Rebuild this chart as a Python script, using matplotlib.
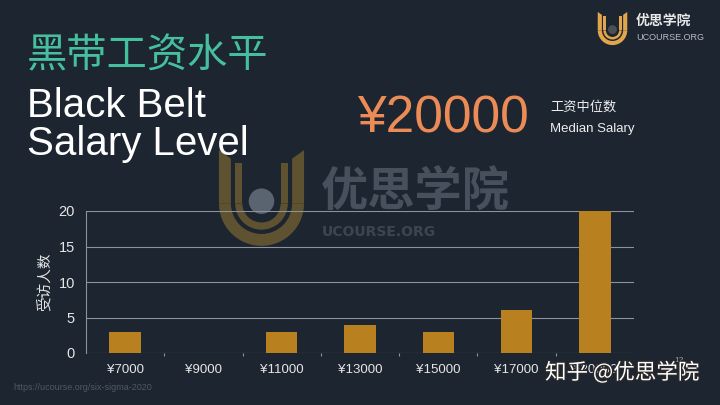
import numpy as np
import matplotlib.pyplot as plt
from matplotlib.patches import Wedge, Rectangle, Circle, Polygon
import matplotlib.patheffects as pe

# data
salary_labels = ['¥7000', '¥9000', '¥11000', '¥13000', '¥15000', '¥17000', '¥20000']
counts = [3, 0, 3, 4, 3, 6, 20]
y_ticks = [0, 5, 10, 15, 20]

bg = '#1c2530'
bar_color = '#b8801e'
cjk = ['Noto Sans CJK SC', 'DejaVu Sans']
latin = ['Liberation Sans', 'DejaVu Sans']

W, H = 720, 405
fig = plt.figure(figsize=(7.2, 4.05), dpi=100, facecolor=bg)


def px_box(x0, y0, x1, y1):
    # pixel box (top-left origin) -> figure fraction rect
    return [x0 / W, 1 - y1 / H, (x1 - x0) / W, (y1 - y0) / H]


def draw_logo(rect, gold, dot):
    ax = fig.add_axes(rect)
    ax.set_xlim(-1.05, 1.05)
    ax.set_ylim(-1.05, 1.3)
    ax.set_aspect('equal')
    ax.axis('off')
    # outer U
    ax.add_patch(Wedge((0, 0), 1.0, 180, 360, width=0.28, color=gold, lw=0))
    ax.add_patch(Polygon([(-1.0, 0), (-0.72, 0), (-0.72, 1.05), (-1.0, 1.25)], color=gold, lw=0))
    ax.add_patch(Polygon([(0.72, 0), (1.0, 0), (1.0, 1.25), (0.72, 1.05)], color=gold, lw=0))
    # inner U
    ax.add_patch(Wedge((0, 0), 0.62, 180, 360, width=0.17, color=gold, lw=0))
    ax.add_patch(Rectangle((-0.62, 0), 0.17, 0.95, color=gold, lw=0))
    ax.add_patch(Rectangle((0.45, 0), 0.17, 0.95, color=gold, lw=0))
    ax.add_patch(Circle((0, 0.05), 0.3, color=dot, lw=0))
    return ax


# faded watermark in the middle
draw_logo(px_box(216, 148, 307, 248), '#5f5230', '#5a6370')
fig.text(321 / W, 1 - 193 / H, '优思学院', family=cjk, fontsize=34, weight='bold',
         color='#47505c', va='center', ha='left')
fig.text(322 / W, 1 - 232 / H, 'UCOURSE.ORG', family='DejaVu Sans', fontsize=10, weight='bold',
         color='#3c4652', va='center', ha='left')

# top right logo
draw_logo(px_box(597, 11, 628, 46), '#e2a54c', '#4a4f58')
fig.text(636 / W, 1 - 21 / H, '优思学院', family=cjk, fontsize=10, weight='bold',
         color='#e8e8e8', va='center', ha='left')
fig.text(636 / W, 1 - 38 / H, 'UCOURSE.ORG', family=latin, fontsize=6.5,
         color='#b8bcc2', va='center', ha='left')

# titles
fig.text(27 / W, 1 - 56 / H, '黑带工资水平', family=cjk, fontsize=29,
         color='#45bf9e', va='center', ha='left')
fig.text(27 / W, 1 - 117 / H, 'Black Belt', family=latin, fontsize=29,
         color='white', va='baseline', ha='left')
fig.text(27 / W, 1 - 155 / H, 'Salary Level', family=latin, fontsize=29,
         color='white', va='baseline', ha='left')

# median salary
fig.text(357 / W, 1 - 119 / H, '¥20000', family=latin, fontsize=37,
         color='#ec8b56', va='center', ha='left')
fig.text(550 / W, 1 - 107 / H, '工资中位数', family=cjk, fontsize=9.5,
         color='#eeeeee', va='center', ha='left')
fig.text(550 / W, 1 - 129 / H, 'Median Salary', family=latin, fontsize=9.5,
         color='#eeeeee', va='center', ha='left')

# chart
ax = fig.add_axes(px_box(86, 211, 634, 353))
ax.set_facecolor('none')
x = np.arange(len(salary_labels))
ax.bar(x, counts, width=0.4, color=bar_color, zorder=3)
ax.set_xlim(-0.5, len(salary_labels) - 0.5)
ax.set_ylim(0, 20)
ax.set_yticks(y_ticks)
ax.set_xticks(x)
ax.set_xticklabels(salary_labels, family=latin, fontsize=9.5, color='#e6e6e6')
ax.set_yticklabels([str(v) for v in y_ticks], family=latin, fontsize=10.5, color='#e6e6e6')
ax.set_xticks(x[:-1] + 0.5, minor=True)
ax.tick_params(axis='both', which='major', length=0, pad=8)
ax.tick_params(axis='x', which='minor', length=2, color='#8d939b', width=0.8)
ax.grid(axis='y', color='#8d939b', linewidth=0.8, zorder=0)
for s in ['top', 'right', 'bottom']:
    ax.spines[s].set_visible(False)
ax.spines['left'].set_color('#8d939b')
ax.spines['left'].set_linewidth(0.8)
ax.set_ylabel('受访人数', family=cjk, fontsize=10.5, color='#e6e6e6', labelpad=5)

# footer
fig.text(13 / W, 1 - 388 / H, 'https://ucourse.org/six-sigma-2020', family=latin, fontsize=6.5,
         color='#4e5a68', va='center', ha='left')
fig.text(674 / W, 1 - 361 / H, '12', family=latin, fontsize=6,
         color='#9aa0a8', va='center', ha='left')
fig.text(545 / W, 1 - 373 / H, '知乎 @优思学院', family=cjk, fontsize=15.5,
         color='white', va='center', ha='left',
         path_effects=[pe.withStroke(linewidth=2, foreground='#2a2a2a')])

fig.savefig('out.png', dpi=100, facecolor=bg)
